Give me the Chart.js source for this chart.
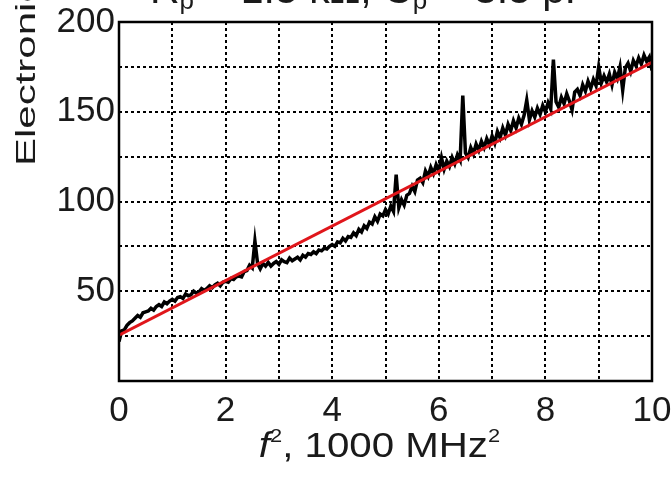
<!DOCTYPE html>
<html>
<head>
<meta charset="utf-8">
<script src="https://cdn.jsdelivr.net/npm/chart.js@4"></script>
<style>
  html, body { margin: 0; padding: 0; background: #fff; overflow: hidden; }
  #noise-canvas { display: block; }
</style>
</head>
<body>
<canvas id="noise-canvas" width="671" height="479"></canvas>
<script>
// Medición: ruido electrónico frente a f² (f² en unidades de 1000 MHz²)
const traza = [
  [0.00,22],[0.05,28],[0.10,28.5],[0.15,31],[0.20,32.5],[0.25,33.5],[0.30,35],[0.35,36.5],[0.40,35.5],[0.45,38],
  [0.50,38.5],[0.55,39],[0.60,40.5],[0.65,39.5],[0.70,41.5],[0.75,42.5],[0.80,41.5],[0.85,44],[0.90,43],[0.95,44.5],
  [1.00,45.5],[1.05,44.5],[1.10,46.5],[1.15,47],[1.20,46],[1.25,48.5],[1.30,47.5],[1.35,48],[1.40,50],[1.45,49],
  [1.50,49.5],[1.55,51.5],[1.60,50.5],[1.65,51.5],[1.70,53],[1.75,52],[1.80,53.5],[1.85,54.5],[1.90,53],[1.95,55],
  [2.00,55.5],[2.05,55],[2.10,57],[2.15,56.5],[2.20,58],[2.25,58.5],[2.30,58],[2.35,61],[2.40,61.5],[2.45,64.5],
  [2.50,63],[2.55,78],[2.60,65.5],[2.65,62.5],[2.70,65.5],[2.75,64],[2.80,66],[2.85,64],[2.90,65.5],[2.95,66.5],
  [3.00,65],[3.05,67.5],[3.10,66.5],[3.15,66],[3.20,68.5],[3.25,67],[3.30,68],[3.35,69],[3.40,67.5],[3.45,70],
  [3.50,69],[3.55,71],[3.60,70.5],[3.65,72],[3.70,71],[3.75,73],[3.80,72.5],[3.85,74],[3.90,73.5],[3.95,75],
  [4.00,76],[4.05,75],[4.10,77.5],[4.15,77],[4.20,79.5],[4.25,78],[4.30,80.5],[4.35,80],[4.40,82.5],[4.45,81],
  [4.50,84.5],[4.55,83],[4.60,86.5],[4.65,85],[4.70,88.5],[4.75,87.5],[4.80,91.5],[4.85,89],[4.90,93],[4.95,92],
  [5.00,95.5],[5.05,93],[5.10,97.5],[5.15,94.5],[5.20,115],[5.25,96.5],[5.30,101],[5.35,98],[5.40,103.5],[5.45,104.5],
  [5.50,108.5],[5.55,105.5],[5.60,112],[5.65,113],[5.70,110.5],[5.75,117],[5.80,114],[5.85,119],[5.90,115.5],[5.95,120.5],
  [6.00,117],[6.05,124.5],[6.10,118],[6.15,122.5],[6.20,119.5],[6.25,124.5],[6.30,121],[6.35,126],[6.40,123],[6.45,159],
  [6.50,127],[6.55,124.5],[6.60,130],[6.65,126.5],[6.70,132],[6.75,128.5],[6.80,133.5],[6.85,130],[6.90,135],[6.95,131.5],
  [7.00,136.5],[7.05,132.5],[7.10,139],[7.15,135.5],[7.20,141],[7.25,137],[7.30,143],[7.35,139.5],[7.40,145],[7.45,141],
  [7.50,146.5],[7.55,143],[7.60,148],[7.65,156.5],[7.70,145.5],[7.75,150.5],[7.80,147],[7.85,152],[7.90,148.5],[7.95,153.5],
  [8.00,150],[8.05,155],[8.10,151.5],[8.15,179],[8.20,155.5],[8.25,152.5],[8.30,158],[8.35,154.5],[8.40,160],[8.45,156],
  [8.50,151],[8.55,161],[8.60,162.5],[8.65,159],[8.70,165],[8.75,161.5],[8.80,167],[8.85,163],[8.90,168],[8.95,164.5],
  [9.00,175],[9.05,166],[9.10,170],[9.15,166.5],[9.20,171],[9.25,165],[9.30,172],[9.35,168.5],[9.40,175],[9.45,162],
  [9.50,174.5],[9.55,177],[9.60,172.5],[9.65,178.5],[9.70,175.5],[9.75,180],[9.80,176.5],[9.85,181.5],[9.90,178],[9.95,180.5],
  [10.00,173]
];

// Recta de ajuste (extremos)
const ajuste = [[0, 25.5], [10, 177.5]];

const xTicks = [0, 2, 4, 6, 8, 10];
const yTicks = [50, 100, 150, 200];

const FONT = '"Liberation Sans", Arial, Helvetica, sans-serif';
const INK  = '#1a1a1a';

// Marco, título del eje Y, título del eje X y título superior (recortado)
const textos = {
  id: 'textos',
  afterDraw(chart) {
    const { ctx, chartArea: a } = chart;
    ctx.save();

    ctx.strokeStyle = '#000';
    ctx.lineWidth = 2.5;
    ctx.setLineDash([]);
    ctx.strokeRect(a.left, a.top, a.right - a.left, a.bottom - a.top);

    ctx.fillStyle = INK;
    ctx.textBaseline = 'alphabetic';
    ctx.textAlign = 'left';

    // eje X: f², 1000 MHz²
    const sx = 1.15;
    const runs = [
      { t: 'f', font: 'italic 35px ' + FONT, dy: 0 },
      { t: '2', font: '19px ' + FONT, dy: -15 },
      { t: ', 1000 MHz', font: '35px ' + FONT, dy: 0 },
      { t: '2', font: '19px ' + FONT, dy: -15 }
    ];
    let w = 0;
    runs.forEach(r => { ctx.font = r.font; r.w = ctx.measureText(r.t).width; w += r.w; });
    ctx.save();
    ctx.translate((a.left + a.right) / 2 - (w * sx) / 2 - 6, 457);
    ctx.scale(sx, 1);
    let x = 0;
    runs.forEach(r => { ctx.font = r.font; ctx.fillText(r.t, x, r.dy); x += r.w; });
    ctx.restore();

    // título superior (solo se ve la parte baja)
    const top = [
      { t: 'R', font: '41px ' + FONT, dy: 0 },
      { t: 'p', font: '26px ' + FONT, dy: 6 },
      { t: ' = 1.5 kΩ, C', font: '41px ' + FONT, dy: 0 },
      { t: 'p', font: '26px ' + FONT, dy: 6 },
      { t: ' = 3.5 pF', font: '41px ' + FONT, dy: 0 }
    ];
    x = 150;
    top.forEach(r => { ctx.font = r.font; ctx.fillText(r.t, x, 3 + r.dy); x += ctx.measureText(r.t).width; });

    // eje Y (texto girado y estirado como en el original)
    ctx.translate(35, 166);
    ctx.rotate(-Math.PI / 2);
    ctx.scale(1.5, 1);
    ctx.font = '28px ' + FONT;
    ctx.fillText('Electronic noise', 0, 0);

    ctx.restore();
  }
};

new Chart(document.getElementById('noise-canvas'), {
  type: 'line',
  data: {
    datasets: [
      {
        label: 'Ajuste',
        data: ajuste.map(([x, y]) => ({ x, y })),
        borderColor: '#e0161b',
        borderWidth: 3,
        pointRadius: 0,
        tension: 0,
        order: 0
      },
      {
        label: 'Ruido',
        data: traza.map(([x, y]) => ({ x, y })),
        borderColor: '#000',
        borderWidth: 3.5,
        pointRadius: 0,
        tension: 0,
        order: 1
      }
    ]
  },
  options: {
    responsive: false,
    animation: false,
    devicePixelRatio: 1,
    layout: { padding: { top: 22, right: 19, left: 0, bottom: 0 } },
    plugins: { legend: { display: false }, tooltip: { enabled: false } },
    scales: {
      x: {
        type: 'linear', min: 0, max: 10,
        afterFit: s => { s.height = 98; s.paddingLeft = 0; s.paddingRight = 0; },
        afterBuildTicks: s => { s.ticks = [0,1,2,3,4,5,6,7,8,9,10].map(v => ({ value: v })); },
        grid: { color: '#000', lineWidth: 2, drawTicks: false },
        border: { display: false, dash: [3, 3] },
        ticks: {
          padding: 9, color: INK, maxRotation: 0, autoSkip: false,
          font: { family: FONT, size: 35 },
          callback: v => xTicks.includes(v) ? String(v) : ''
        }
      },
      y: {
        type: 'linear', min: 0, max: 200,
        afterFit: s => { s.width = 119; s.paddingTop = 0; s.paddingBottom = 0; },
        afterBuildTicks: s => { s.ticks = [0,25,50,75,100,125,150,175,200].map(v => ({ value: v })); },
        grid: { color: '#000', lineWidth: 2, drawTicks: false },
        border: { display: false, dash: [3, 3] },
        ticks: {
          padding: 4, color: INK, autoSkip: false,
          font: { family: FONT, size: 35 },
          callback: v => yTicks.includes(v) ? String(v) : ''
        }
      }
    }
  },
  plugins: [textos]
});
</script>
</body>
</html>
